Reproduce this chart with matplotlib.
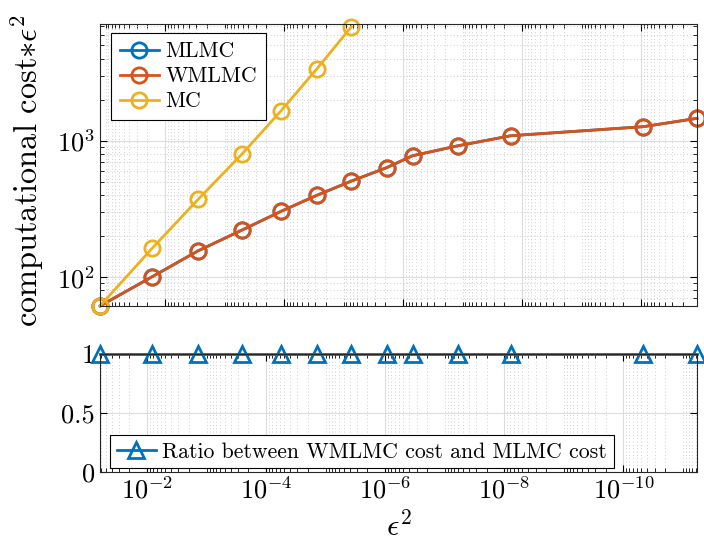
import numpy as np
import matplotlib
matplotlib.use("Agg")
import matplotlib.pyplot as plt
from matplotlib.ticker import LogLocator, FixedLocator, NullFormatter

plt.rcParams["font.family"] = "serif"
plt.rcParams["font.serif"] = ["cmr10"]
plt.rcParams["mathtext.fontset"] = "cm"
plt.rcParams["axes.formatter.use_mathtext"] = True

# epsilon^2 values for the cost panel and the ratio panel
eps2_cost = [0.125, 1.66e-2, 2.78e-3, 5.14e-4, 1.14e-4, 2.82e-5, 7.44e-6,
             1.91e-6, 6.98e-7, 1.19e-7, 1.55e-8, 9.2e-11, 1.16e-11]
eps2_ratio = [0.0625, 8.30e-3, 1.39e-3, 2.57e-4, 5.68e-5, 1.41e-5, 3.72e-6,
              9.55e-7, 3.49e-7, 5.93e-8, 7.74e-9, 4.61e-11, 5.82e-12]

mlmc = [61.3, 100.5, 156, 221, 303, 398, 506, 634, 776, 919, 1088, 1268, 1459]
wmlmc = [61.3, 100.5, 156, 221, 303, 398, 506, 634, 776, 919, 1088, 1268, 1459]
mc = [61.3, 162.5, 373, 798, 1652, 3373, 6855]
ratio = [1, 1, 1, 1, 1, 1, 1, 1, 1, 1, 1, 1, 1]

c_blue = "#0072BD"
c_red = "#D95319"
c_yel = "#EDB120"

fig = plt.figure(figsize=(7.04, 5.42), dpi=100)
ax1 = fig.add_axes([0.142, 0.4354, 0.848, 0.5203])
ax2 = fig.add_axes([0.142, 0.129, 0.848, 0.2179])

kw = dict(lw=2, ms=11, mfc="none", mew=2, clip_on=False)
ax1.plot(eps2_cost, mlmc, "-o", color=c_blue, label="MLMC", **kw)
ax1.plot(eps2_cost, wmlmc, "-o", color=c_red, label="WMLMC", **kw)
ax1.plot(eps2_cost[:len(mc)], mc, "-o", color=c_yel, label="MC", **kw)
ax1.set_xscale("log")
ax1.set_yscale("log")
ax1.set_xlim(eps2_cost[0], eps2_cost[-1])
ax1.set_ylim(61.3, 7180)
ax1.set_ylabel(r"computational cost$*\epsilon^2$", fontsize=23.3, va="baseline")
ax1.yaxis.set_label_coords(-0.104, 0.482)

ax2.plot(eps2_ratio, ratio, "-^", color=c_blue,
         label="Ratio between WMLMC cost and MLMC cost", **kw)
ax2.set_xscale("log")
ax2.set_xlim(eps2_ratio[0], eps2_ratio[-1])
ax2.set_ylim(0, 1)
ax2.set_yticks([0, 0.5, 1])
ax2.set_yticklabels(["0", "0.5", "1"])
ax2.set_xlabel(r"$\epsilon^2$", fontsize=22, labelpad=5)

for ax in (ax1, ax2):
    ax.xaxis.set_major_locator(FixedLocator([10.0 ** -k for k in range(0, 12, 2)]))
    ax.xaxis.set_minor_locator(LogLocator(base=10, subs=np.arange(1, 10), numticks=100))
    ax.xaxis.set_minor_formatter(NullFormatter())
    ax.tick_params(which="both", direction="in", top=True, right=True, labelsize=19)
    ax.tick_params(which="major", length=5, width=0.8)
    ax.tick_params(which="minor", length=3, width=0.6)
    ax.grid(True, which="major", color="#dcdcdc", lw=0.8)
    ax.grid(True, which="minor", axis="x", color="#bdbdbd", lw=0.6, ls=(0, (1, 3)))
    for s in ax.spines.values():
        s.set_color("#262626")
        s.set_linewidth(0.8)
    ax.set_axisbelow(True)

ax1.grid(True, which="minor", axis="y", color="#bdbdbd", lw=0.6, ls=(0, (1, 3)))
ax1.yaxis.set_minor_formatter(NullFormatter())
ax1.tick_params(labelbottom=False)

leg1 = ax1.legend(loc="upper left", bbox_to_anchor=(0.0184, 0.968), fontsize=15.7,
                  fancybox=False, edgecolor="black", framealpha=1, handlelength=1.8,
                  borderaxespad=0, labelspacing=0.25, handletextpad=0.3, borderpad=0.4)
leg1.get_frame().set_linewidth(0.8)
leg2 = ax2.legend(loc="lower left", bbox_to_anchor=(0.0168, 0.034), fontsize=15.7,
                  fancybox=False, edgecolor="black", framealpha=1, handlelength=1.8,
                  borderaxespad=0, handletextpad=0.3, borderpad=0.3)
leg2.get_frame().set_linewidth(0.8)

fig.savefig("out.png", dpi=100)
